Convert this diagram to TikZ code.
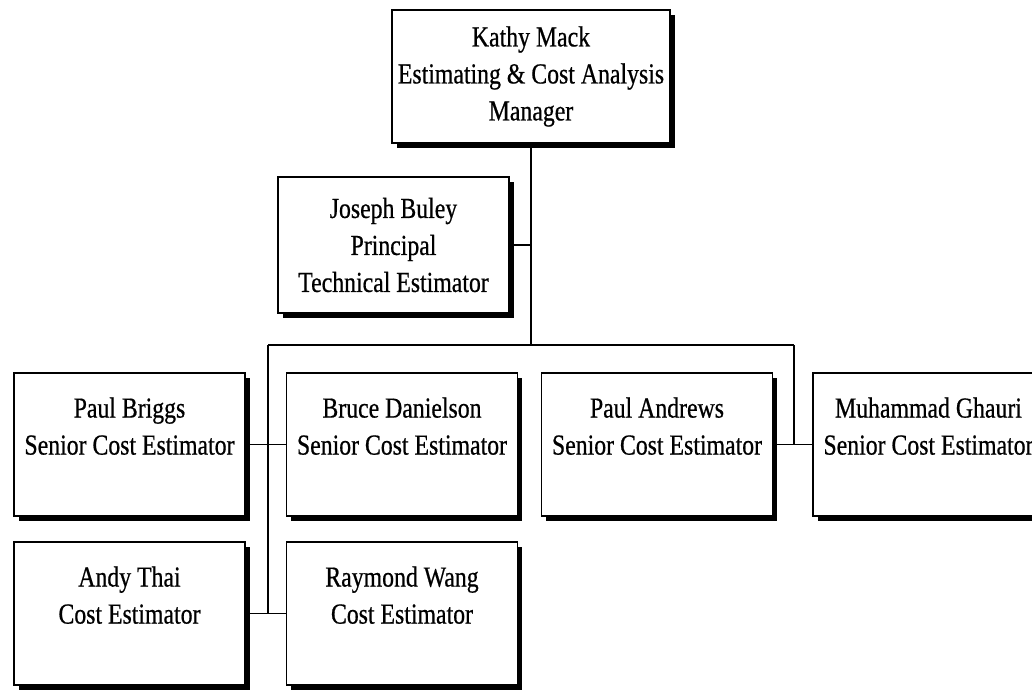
\documentclass[tikz,border=0pt]{standalone}
\usepackage{fontspec}
\setmainfont{Liberation Serif}[FakeStretch=0.82, FakeBold=0.6]
\usepackage{tikz}
\usetikzlibrary{positioning, shadows}

\begin{document}
\begin{tikzpicture}[
      x=1pt, y=-1pt,
      box/.style={draw, line width=1.3pt, fill=white, inner sep=0pt, align=center,
        font=\fontsize{29}{37}\selectfont,
        drop shadow={shadow xshift=4.5pt, shadow yshift=-4.5pt, fill=black, opacity=1}},
      head/.style={box, minimum width=278pt, minimum height=133pt},
      staff/.style={box, minimum width=231pt, minimum height=143pt},
      lead/.style={box, minimum width=231pt, minimum height=136pt},
      link/.style={line width=1.8pt}
    ]
    \clip (0,0) rectangle (1032,689);
    \fill[white] (0,0) rectangle (1032,689);

    \node[head] (kathy) at (531,76.5) {Kathy Mack\\Estimating \& Cost Analysis\\Manager};
    \node[lead] (joseph) at (393.5,245) {Joseph Buley\\Principal\\Technical Estimator};

    \node[staff] (briggs) at (129.5,444.5) {Paul Briggs\\Senior Cost Estimator\\\mbox{}};
    \node[staff] (bruce) at (402,444.5) {Bruce Danielson\\Senior Cost Estimator\\\mbox{}};
    \node[staff] (andrews) at (657,444.5) {Paul Andrews\\Senior Cost Estimator\\\mbox{}};
    \node[staff] (ghauri) at (928.5,444.5) {Muhammad Ghauri\\Senior Cost Estimator\\\mbox{}};
    \node[staff] (thai) at (129.5,613.5) {Andy Thai\\Cost Estimator\\\mbox{}};
    \node[staff] (wang) at (402,613.5) {Raymond Wang\\Cost Estimator\\\mbox{}};

    % bus under the manager
    \coordinate (busL) at (268,345);
    \coordinate (busR) at (794,345);

    \draw[link] (kathy.south) -- (kathy.south |- busL);
    \draw[link] (joseph.east) -- (joseph.east -| kathy.south);
    \draw[link] (busL) -- (busR);
    \draw[link] (busL) -- (busL |- thai.east);
    \draw[link] (busR) -- (busR |- andrews.east);
    \draw[link] (briggs.east) -- (bruce.west);
    \draw[link] (thai.east) -- (wang.west);
    \draw[link] (andrews.east) -- (ghauri.west);
  \end{tikzpicture}
\end{document}
